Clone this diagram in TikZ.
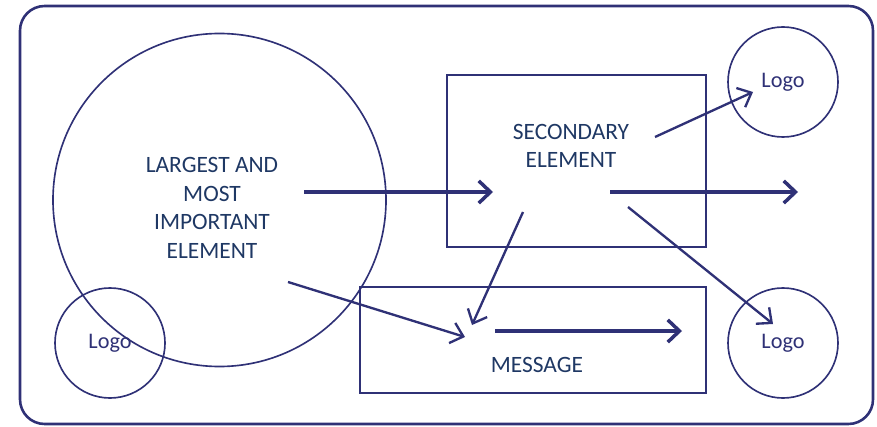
\documentclass[tikz,border=0pt]{standalone}
\usepackage{fontspec}
\setmainfont{Carlito}
\usetikzlibrary{arrows.meta}

\definecolor{navy}{RGB}{47,49,118}
\definecolor{inkblue}{RGB}{31,56,100}

\begin{document}
\begin{tikzpicture}[
    x=0.03cm, y=-0.03cm,
    frame/.style={draw=navy, line width=2.2pt, rounded corners=21pt},
    ring/.style={draw=navy, circle, line width=1.4pt, inner sep=0pt},
    logo/.style={ring, minimum size=3.3cm, text=navy, font=\fontsize{19}{22}\selectfont},
    panel/.style={draw=navy, line width=1.4pt, inner sep=0pt},
    txt/.style={align=center, text=inkblue, font=\fontsize{20}{24.5}\selectfont},
    heavy/.style={-{Straight Barb[length=10pt,width=19pt]}, draw=navy, line width=3pt},
    light/.style={-{Straight Barb[length=10pt,width=18pt]}, draw=navy, line width=2pt}
]
\useasboundingbox (0,0) rectangle (877,427);
\draw[frame] (20,6) rectangle (873,424);

\node[ring, minimum size=9.99cm] (big) at (219.5,200) {};
\node[txt] (bigtxt) at (212,208) {LARGEST AND\\MOST\\IMPORTANT\\ELEMENT};
\node[panel, minimum width=7.77cm, minimum height=5.16cm] (second) at (576.5,161) {};
\node[txt] (secondtxt) at (571,146) {SECONDARY\\ELEMENT};
\node[panel, minimum width=10.38cm, minimum height=3.18cm] (msg) at (533,340) {};
\node[txt] (msgtxt) at (537,365) {MESSAGE};

\node[logo] (logoa) at (110,343) {Logo};
\node[logo] (logob) at (783,82) {Logo};
\node[logo] (logoc) at (783,343) {Logo};

% arrow ends
\coordinate (bigout) at (304,192);
\coordinate (bigdown) at (288,282);
\coordinate (secin) at (493,192);
\coordinate (secout) at (610,192);
\coordinate (secup) at (655,137);
\coordinate (secdown) at (628,207);
\coordinate (seclow) at (523,212);
\coordinate (exit) at (798,192);
\coordinate (logobin) at (753,92);
\coordinate (logocin) at (773,324);
\coordinate (msgina) at (472,325);
\coordinate (msginb) at (465,337);
\coordinate (msgout) at (495,331);
\coordinate (msgend) at (682,331);

\draw[heavy] (bigout) -- (secin);
\draw[heavy] (secout) -- (exit);
\draw[light] (secup) -- (logobin);
\draw[light] (secdown) -- (logocin);
\draw[light] (seclow) -- (msgina);
\draw[light] (bigdown) -- (msginb);
\draw[heavy] (msgout) -- (msgend);
\end{tikzpicture}
\end{document}
